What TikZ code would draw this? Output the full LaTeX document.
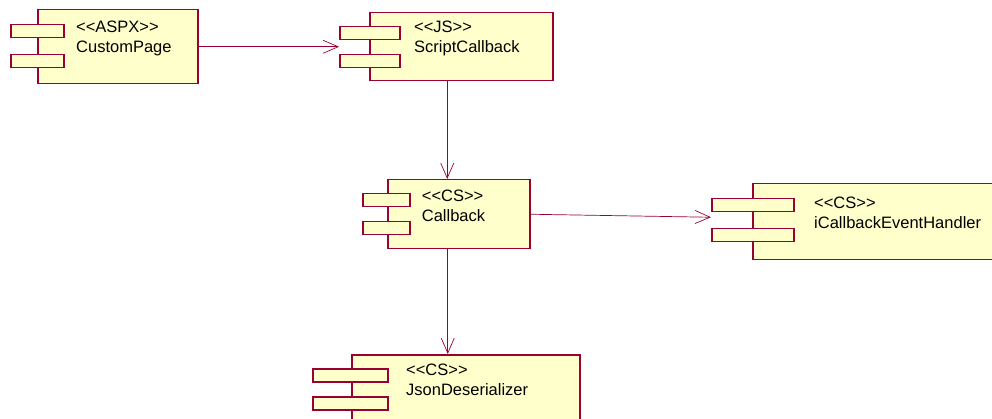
\documentclass[tikz,border=0pt]{standalone}
\usepackage{fontspec}
\setmainfont{Liberation Sans}[Ligatures=TeXOff]
\usetikzlibrary{arrows.meta}

\definecolor{umlred}{HTML}{990033}
\definecolor{umlfill}{HTML}{FFFFCC}

\tikzset{
  comp/.style={draw=umlred, fill=umlfill, line width=1.5pt, anchor=north west, inner sep=0pt},
  tab/.style={draw=umlred, fill=umlfill, line width=1.5pt, anchor=north west, inner sep=0pt, minimum height=13pt},
  stereo/.style={anchor=north west, align=left, inner sep=0pt, font=\fontsize{16.5}{20}\selectfont},
  dep/.style={draw=umlred, line width=0.7pt, -{Straight Barb[length=15pt,width=13pt]}}
}

\begin{document}
\begin{tikzpicture}[x=1pt,y=-1pt]
  \useasboundingbox (0,0) rectangle (992,419);

  % Draw the CustomPage component
  \node[comp, minimum width=160pt, minimum height=74pt] (page) at (37,9) {};
  \node[tab, minimum width=53pt] (page-t1) at (10,24) {};
  \node[tab, minimum width=53pt] (page-t2) at (10,54) {};
  \node[stereo] (page-txt) at (76,20.7) {<<ASPX>>\\CustomPage};

  % Draw the ScriptCallback component
  \node[comp, minimum width=183pt, minimum height=68pt] (script) at (369,12) {};
  \node[tab, minimum width=60pt] (script-t1) at (339,26) {};
  \node[tab, minimum width=60pt] (script-t2) at (339,54) {};
  \node[stereo] (script-txt) at (414,20.7) {<<JS>>\\ScriptCallback};

  % Draw the Callback component
  \node[comp, minimum width=142pt, minimum height=69pt] (callback) at (387,179) {};
  \node[tab, minimum width=47pt] (callback-t1) at (362,193) {};
  \node[tab, minimum width=47pt] (callback-t2) at (362,221) {};
  \node[stereo] (callback-txt) at (421.7,189.3) {<<CS>>\\Callback};

  % Draw the iCallbackEventHandler component
  \node[comp, minimum width=250pt, minimum height=76pt] (handler) at (752,183) {};
  \node[tab, minimum width=82pt] (handler-t1) at (711,198) {};
  \node[tab, minimum width=82pt] (handler-t2) at (711,228) {};
  \node[stereo] (handler-txt) at (814,196.7) {<<CS>>\\iCallbackEventHandler};

  % Draw the JsonDeserializer component
  \node[comp, minimum width=228pt, minimum height=75pt] (json) at (351,354) {};
  \node[tab, minimum width=75pt] (json-t1) at (312,368) {};
  \node[tab, minimum width=75pt] (json-t2) at (312,396) {};
  \node[stereo] (json-txt) at (406,363.3) {<<CS>>\\JsonDeserializer};

  % Draw the dependencies
  \draw[dep] (page.east) -- (page.east -| script-t1.west);
  \draw[dep] ([xshift=-14pt]script.south) -- ([xshift=-14pt]script.south |- callback.north);
  \draw[dep] (callback.east) -- ([yshift=-12pt]handler-t1.west);
  \draw[dep] ([xshift=-11pt]callback.south) -- ([xshift=-11pt]callback.south |- json.north);
\end{tikzpicture}
\end{document}
